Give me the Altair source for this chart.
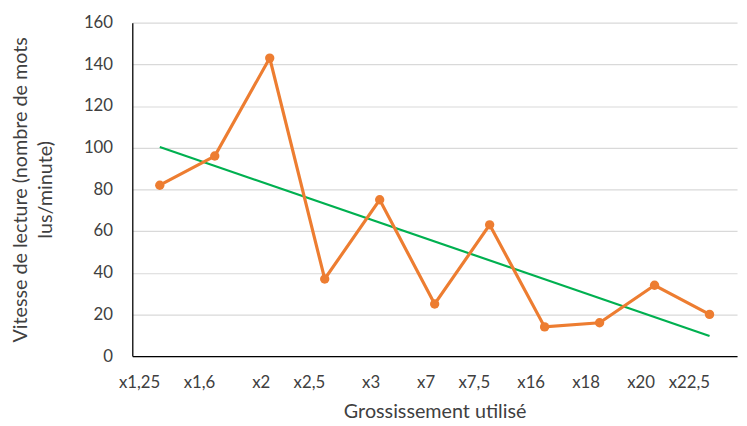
import altair as alt
import pandas as pd

categories = ["x1,25", "x1,6", "x2", "x2,5", "x3", "x7", "x7,5", "x16", "x18", "x20", "x22,5"]
speeds = [82, 96, 143, 37, 75, 25, 63, 14, 16, 34, 20]

df = pd.DataFrame({"cat": categories, "val": speeds, "idx": list(range(len(categories)))})

FONT = "Lato"
ORANGE = "#ED7D31"
GREEN = "#00B050"

x_enc = alt.X("cat:N", sort=categories,
              scale=alt.Scale(paddingInner=0, paddingOuter=0),
              axis=alt.Axis(title="Grossissement utilisé", labelAngle=0, ticks=False,
                            domainColor="#000000", domainWidth=1.3,
                            labelFontSize=17, labelColor="#404040", labelPadding=27,
                            titleFontSize=20, titleColor="#404040", titleFontWeight="normal",
                            titlePadding=11, labelFont=FONT, titleFont=FONT))
y_enc = alt.Y("val:Q", scale=alt.Scale(domain=[0, 160]),
              axis=alt.Axis(title=["Vitesse de lecture (nombre de mots", "lus/minute)"],
                            values=list(range(0, 161, 20)), ticks=False,
                            domainColor="#000000", domainWidth=1.3,
                            gridColor="#D9D9D9", gridWidth=1.2,
                            labelFontSize=17, labelColor="#404040", labelPadding=20,
                            titleFontSize=20, titleColor="#404040", titleFontWeight="normal",
                            titleLineHeight=26,
                            titlePadding=28, labelFont=FONT, titleFont=FONT))

base = alt.Chart(df)

line = base.mark_line(color=ORANGE, strokeWidth=3.2).encode(x=x_enc, y=y_enc)
pts = base.mark_point(color=ORANGE, filled=True, opacity=1, size=90).encode(x=x_enc, y=y_enc)

label_expr = "[" + ",".join("'" + c + "'" for c in categories) + "][round(datum.idx)]"
trend = base.transform_regression("idx", "val", method="linear").transform_calculate(
    cat=label_expr
).mark_line(color=GREEN, strokeWidth=2.2).encode(x=alt.X("cat:N", sort=categories), y="val:Q")

chart = alt.layer(trend, line, pts).properties(
    width=613, height=338,
    padding={"left": 2, "top": 3, "right": 2, "bottom": 2},
).configure_view(stroke=None).configure_axisX(grid=False)

chart.save("out.html", embed_options={"renderer": "svg", "actions": False})
